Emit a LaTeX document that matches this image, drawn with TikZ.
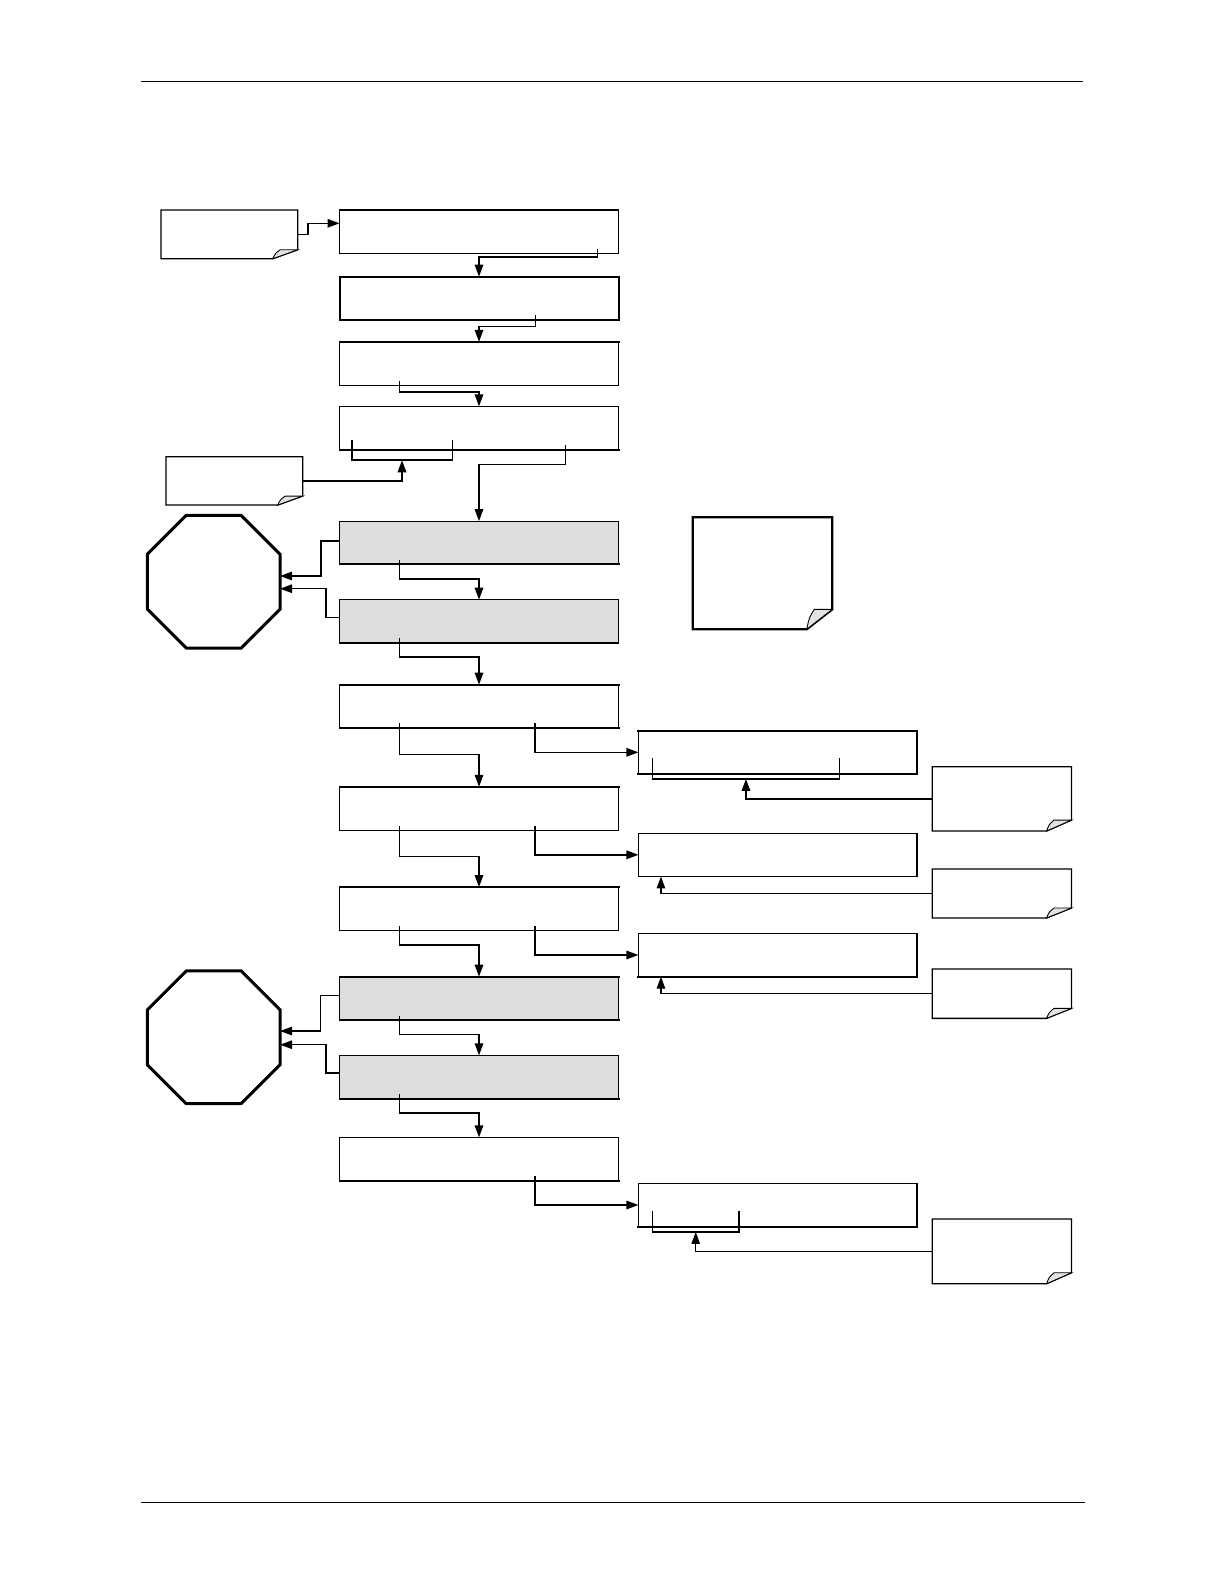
\documentclass[tikz,border=0pt]{standalone}
\usepackage{tikz}
\usetikzlibrary{positioning, shapes.geometric, arrows.meta, calc}
\definecolor{alarmgrey}{HTML}{DDDDDD}
\definecolor{foldgrey}{HTML}{E2E2E2}

% page-curl note drawn round an invisible node
\newcommand{\dogear}[3]{%
  \draw[notepaper] (#1.north west) -- (#1.north east) -- ([yshift=#3]#1.south east)
    -- ([xshift=-#2]#1.south east) -- (#1.south west) -- cycle;
  \draw[earfold] ([xshift=-#2]#1.south east)
    .. controls ([xshift=-0.9*#2,yshift=0.6*#3]#1.south east) .. ([xshift=-0.7*#2,yshift=#3]#1.south east)
    -- ([yshift=#3]#1.south east) -- cycle;
}

\begin{document}
\begin{tikzpicture}[x=1pt, y=-1pt,
                stepbox/.style={draw=black, line width=1.2pt, rectangle, inner sep=0pt, outer sep=0pt, minimum width=279pt, minimum height=43.3pt},
                sidebox/.style={stepbox, minimum width=278.5pt},
                alarmbox/.style={stepbox, fill=alarmgrey},
                stopsign/.style={draw=black, line width=3pt, regular polygon, regular polygon sides=8, minimum size=143.6pt, inner sep=0pt, outer sep=0pt},
                notebox/.style={rectangle, inner sep=0pt, outer sep=0pt},
                notepaper/.style={draw=black, line width=1.3pt, fill=white, line join=miter},
                earfold/.style={draw=black, line width=0.9pt, fill=foldgrey},
                heavyedge/.style={line width=2pt, line cap=rect},
                edge/.style={line width=1.5pt, -{Triangle[length=12pt, width=8.5pt]}},
                bracket/.style={line width=1.6pt}
            ]

            \fill[white] (0,0) rectangle (1224,1584);
            \useasboundingbox (0,0) rectangle (1224,1584);

            % page rules
            \draw[line width=1.1pt] (141,81.7) -- (1083,81.7);
            \draw[line width=1.1pt] (141,1502.3) -- (1085,1502.3);

            % main column
            \node[stepbox] (b1) at (479,231.7) {};
            \node[stepbox] (b2) at (479,298.3) {};
            \node[stepbox] (b3) at (479,363.5) {};
            \node[stepbox] (b4) at (479,428) {};
            \node[alarmbox] (b5) at (479,542.8) {};
            \node[alarmbox] (b6) at (479,621.3) {};
            \node[stepbox] (b7) at (479,706.3) {};
            \node[stepbox] (b8) at (479,808.5) {};
            \node[stepbox] (b9) at (479,908.7) {};
            \node[alarmbox] (b10) at (479,998.3) {};
            \node[alarmbox] (b11) at (479,1077) {};
            \node[stepbox] (b12) at (479,1159) {};

            % side column
            \node[sidebox] (sA) at (777.7,752.3) {};
            \node[sidebox] (sB) at (777.7,854.8) {};
            \node[sidebox] (sC) at (777.7,955) {};
            \node[sidebox] (sD) at (777.7,1205) {};

            % heavier edges
            \draw[heavyedge] (b2.north west) rectangle (b2.south east);
            \draw[heavyedge] (b3.north west) -- (b3.north east);
            \draw[heavyedge] (b4.south west) -- (b4.south east);
            \draw[heavyedge] (b5.south west) -- (b5.south east);
            \draw[heavyedge] (b7.north west) -- (b7.north east);
            \draw[heavyedge] (b7.south west) -- (b7.south east);
            \draw[heavyedge] (sA.north west) -- (sA.north east) -- (sA.south east) -- (sA.south west);
            \draw[heavyedge] (b8.north west) -- (b8.north east);
            \draw[heavyedge] (b9.north west) -- (b9.north east);
            \draw[heavyedge] (sC.south west) -- (sC.south east);
            \draw[heavyedge] (b10.north west) -- (b10.north east);
            \draw[heavyedge] (b10.south west) -- (b10.south east);
            \draw[heavyedge] (b11.south west) -- (b11.south east);
            \draw[heavyedge] (b12.south west) -- (b12.south east);
            \draw[heavyedge] (sD.south west) -- (sD.south east);

            % stop signs
            \node[stopsign] (stop1) at (213.7,581.7) {};
            \node[stopsign] (stop2) at (213.7,1037.3) {};

            % notes
            \node[notebox, minimum width=136.7pt, minimum height=48.7pt] (n1) at (229.4,234.4) {};
            \node[notebox, minimum width=136.7pt, minimum height=48.3pt] (n2) at (234.4,480.9) {};
            \node[notebox, minimum width=139.6pt, minimum height=112pt] (nbig) at (762.5,573.3) {};
            \node[notebox, minimum width=139.3pt, minimum height=64.3pt] (nA) at (1001.9,798.9) {};
            \node[notebox, minimum width=139.3pt, minimum height=49pt] (nB) at (1001.9,893.5) {};
            \node[notebox, minimum width=139.3pt, minimum height=49.3pt] (nC) at (1001.9,993.7) {};
            \node[notebox, minimum width=139.3pt, minimum height=64.7pt] (nD) at (1001.9,1251.4) {};
            \dogear{n1}{25pt}{9pt}
            \dogear{n2}{25pt}{9pt}
            \begin{scope}[notepaper/.append style={line width=2.2pt}]
              \dogear{nbig}{25.6pt}{20pt}
            \end{scope}
            \dogear{nA}{25pt}{11pt}
            \dogear{nB}{25pt}{10pt}
            \dogear{nC}{25pt}{10pt}
            \dogear{nD}{25pt}{11pt}

            % brackets
            \draw[bracket] ([xshift=12.2pt,yshift=9.7pt]b4.south west) -- ++(0,20.3) -- ++(100.6,0) coordinate[pos=0.5] (k4) -- ++(0,-20.3);
            \draw[bracket] ([xshift=14pt,yshift=15.7pt]sA.south west) -- ++(0,20.7) -- ++(187,0) coordinate[pos=0.5] (kA) -- ++(0,-20.7);
            \draw[bracket] ([xshift=14pt,yshift=16pt]sD.south west) -- ++(0,21.3) -- ++(86.5,0) coordinate[pos=0.5] (kD) -- ++(0,-21.3);

            % main flow
            \draw[edge] (n1.east) -- ++(10,0) |- ([yshift=8.4pt]b1.west);
            \draw[edge] ([xshift=-21.2pt,yshift=4pt]b1.south east) -- ++(0,7.7) -| (b2.north);
            \draw[edge] ([xshift=-83.2pt,yshift=5pt]b2.south east) -- ++(0,11.7) -| (b3.north);
            \draw[edge] ([xshift=60.2pt,yshift=4.3pt]b3.south west) -- ++(0,11.3) -| (b4.north);
            \draw[edge, line width=1.8pt] (n2.east) -| (k4);
            \draw[edge] ([xshift=-53.2pt,yshift=4.7pt]b4.south east) -- ++(0,19.3) -| (b5.north);
            \draw[edge] ([xshift=60.2pt,yshift=4.3pt]b5.south west) -- ++(0,19) -| (b6.north);
            \draw[edge] ([xshift=60.2pt,yshift=5pt]b6.south west) -- ++(0,19) -| (b7.north);
            \draw[edge] ([xshift=60pt,yshift=4.7pt]b7.south west) -- ++(0,31) -| (b8.north);
            \draw[edge] ([xshift=-83.7pt,yshift=4.7pt]b7.south east) |- (sA.west);
            \draw[edge, line width=1.8pt] (nA.west) -| (kA);
            \draw[edge] ([xshift=60pt,yshift=4.6pt]b8.south west) -- ++(0,30.8) -| (b9.north);
            \draw[edge] ([xshift=-83.7pt,yshift=4.6pt]b8.south east) |- (sB.west);
            \draw[edge, line width=1.2pt] (nB.west) -| ([xshift=22.5pt]sB.south west);
            \draw[edge] ([xshift=60pt,yshift=4.3pt]b9.south west) -- ++(0,19) -| (b10.north);
            \draw[edge] ([xshift=-83.7pt,yshift=4.3pt]b9.south east) |- (sC.west);
            \draw[edge, line width=1.2pt] (nC.west) -| ([xshift=22.5pt]sC.south west);
            \draw[edge] ([xshift=60.2pt,yshift=4.3pt]b10.south west) -- ++(0,19) -| (b11.north);
            \draw[edge] ([xshift=60.2pt,yshift=4.7pt]b11.south west) -- ++(0,19) -| (b12.north);
            \draw[edge] ([xshift=-83.7pt,yshift=4.7pt]b12.south east) |- (sD.west);
            \draw[edge, line width=1.2pt] (nD.west) -| (kD);

            % alarms to stop signs
            \draw[edge] ([yshift=2pt]b5.west) -- ++(-18.6,0) |- ([yshift=5.7pt]stop1.east);
            \draw[edge, line width=1.2pt] ([yshift=3.6pt]b6.west) -- ++(-13.6,0) |- ([yshift=-7pt]stop1.east);
            \draw[edge] ([yshift=2.6pt]b10.west) -- ++(-19,0) |- ([yshift=6.3pt]stop2.east);
            \draw[edge, line width=1.2pt] ([yshift=4pt]b11.west) -- ++(-13.6,0) |- ([yshift=-7.4pt]stop2.east);

        \end{tikzpicture}
\end{document}
